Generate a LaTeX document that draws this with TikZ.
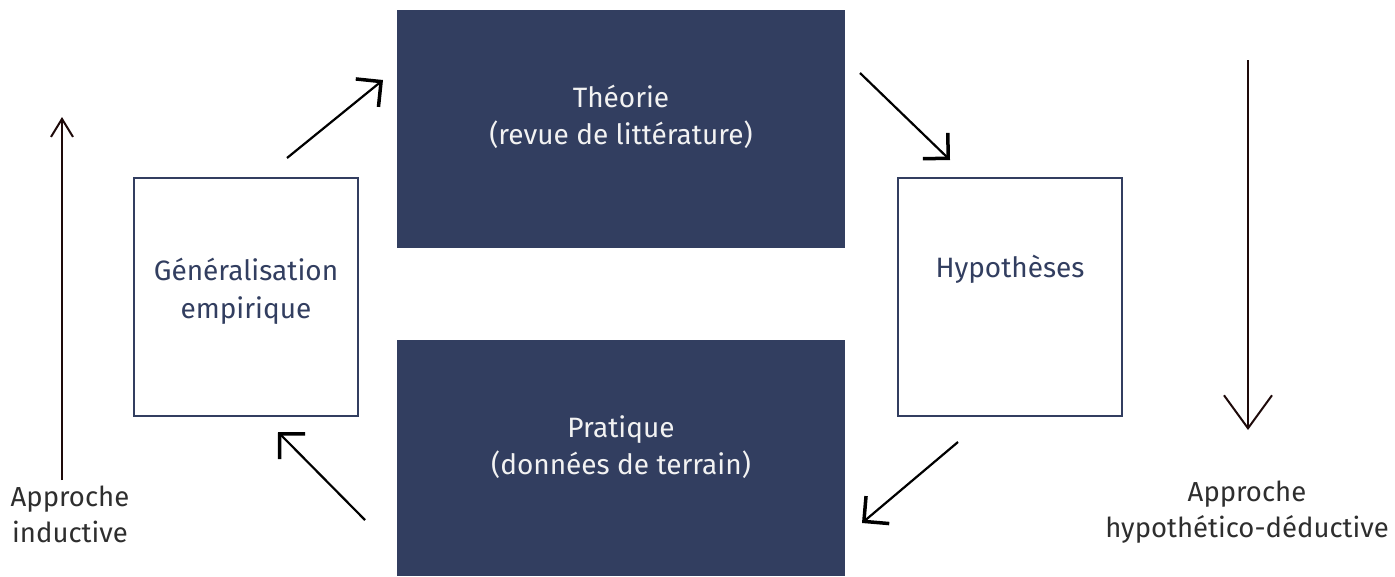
\documentclass[tikz,border=0pt]{standalone}
\usepackage{fontspec}
\setmainfont{Fira Sans}
\usetikzlibrary{arrows.meta}
\definecolor{navy}{HTML}{323E60}
\definecolor{txtdark}{HTML}{2E2E2E}
\definecolor{arrowdark}{HTML}{1E0A0A}
\begin{document}
\begin{tikzpicture}[x=1pt,y=-1pt,
  darkbox/.style={draw=none,fill=navy,minimum width=448pt,minimum height=238pt,inner sep=0pt},
  darktxt/.style={text=white!95!black,align=center,inner sep=0pt,font=\fontsize{28}{37}\selectfont},
  lightbox/.style={draw=navy,line width=2pt,fill=white,minimum width=224pt,minimum height=238pt,inner sep=0pt},
  lighttxt/.style={text=navy,align=center,inner sep=0pt,font=\fontsize{28}{38}\selectfont},
  lbl/.style={text=txtdark,align=center,inner sep=0pt,font=\fontsize{27.5}{36}\selectfont},
  cyc/.style={line width=2.2pt,-{Straight Barb[length=18pt,width=36pt,line width=3.5pt]}},
  big/.style={draw=arrowdark,line width=1.8pt}]
\useasboundingbox (0,0) rectangle (1395,576);
\node[darkbox] (theo) at (621,129) {};
\node[darktxt] (theot) at ([yshift=12pt]theo.center) {Théorie\\(revue de littérature)};
\node[darkbox,minimum height=236pt] (prat) at (621,458) {};
\node[darktxt] (pratt) at ([yshift=11pt]prat.center) {Pratique\\(données de terrain)};
\node[lightbox] (gen) at (246,297) {};
\node[lighttxt] (gent) at ([yshift=6pt]gen.center) {Généralisation\\empirique};
\node[lightbox] (hyp) at (1010,297) {};
\node[lighttxt] (hypt) at ([yshift=28pt]hyp.center) {Hypothèses};
% cycle arrows
\coordinate (a1s) at (287,158); \coordinate (a1e) at (383,80);
\coordinate (a2s) at (860,73);  \coordinate (a2e) at (950,160);
\coordinate (a3s) at (958,442); \coordinate (a3e) at (862,523);
\coordinate (a4s) at (365,520); \coordinate (a4e) at (278,432);
\draw[cyc] (a1s) -- (a1e);
\draw[cyc] (a2s) -- (a2e);
\draw[cyc] (a3s) -- (a3e);
\draw[cyc] (a4s) -- (a4e);
% approaches
\node[lbl] (ind) at (70,514) {Approche\\inductive};
\node[lbl] (ded) at (1247,512) {Approche\\hypothético-déductive};
\coordinate (indbot) at (62,480);
\coordinate (indtop) at (62,117);
\draw[big,-{Straight Barb[length=18pt,width=22pt,line width=2pt]}] (indbot) -- (indtop);
\coordinate (dedtop) at (1248,60);
\coordinate (dedend) at (1248,430);
\draw[big,-{Straight Barb[length=33pt,width=48pt,line width=2pt]}] (dedtop) -- (dedend);
\end{tikzpicture}
\end{document}
